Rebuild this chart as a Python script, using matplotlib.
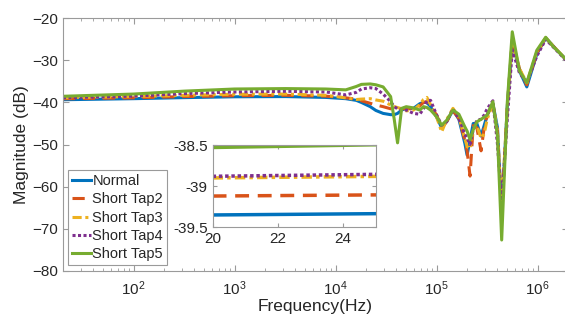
import matplotlib
matplotlib.use("Agg")
import matplotlib.pyplot as plt
import matplotlib.ticker as ticker

plt.rcParams['font.family'] = ['Liberation Sans', 'DejaVu Sans']
plt.rcParams['mathtext.fontset'] = 'custom'
plt.rcParams['mathtext.rm'] = 'Liberation Sans'
plt.rcParams['mathtext.it'] = 'Liberation Sans:italic'

# frequency points (Hz)
freq = [20, 100, 320, 1e3, 3.2e3, 8e3, 1.26e4, 1.6e4, 1.8e4, 2.2e4,
        2.5e4, 2.95e4, 3.5e4, 3.8e4, 4.1e4, 4.5e4, 5e4, 5.9e4, 6.8e4, 7.4e4,
        8e4, 8.7e4, 1e5, 1.12e5, 1.26e5, 1.45e5, 1.66e5, 1.9e5, 2e5, 2.14e5,
        2.3e5, 2.5e5, 2.75e5, 2.95e5, 3.16e5, 3.6e5, 4e5, 4.4e5, 5e5, 5.6e5,
        6.6e5, 7.8e5, 9.8e5, 1.2e6, 1.45e6, 1.9e6]

normal = [-39.35, -39.1, -38.85, -38.65, -38.6, -38.8, -39.1, -39.5, -40.0, -41.0,
          -41.9, -42.6, -42.9, -42.9, -42.6, -41.8, -41.4, -41.4, -40.3, -40.0,
          -40.0, -41.0, -43.5, -46.0, -44.5, -41.8, -44.0, -49.7, -52.5, -48.9,
          -45.0, -45.0, -48.0, -45.5, -43.0, -40.2, -46.0, -66.0, -41.0, -25.5,
          -32.5, -36.3, -28.5, -24.7, -26.8, -29.8]
tap2 = [-39.12, -38.9, -38.6, -38.4, -38.3, -38.5, -38.9, -39.2, -39.6, -40.2,
        -40.6, -41.0, -41.5, -41.6, -41.6, -41.5, -41.5, -41.5, -40.8, -40.0,
        -39.8, -41.0, -43.0, -46.0, -44.5, -42.0, -43.8, -49.0, -51.5, -57.5,
        -45.5, -46.0, -51.5, -46.0, -43.0, -40.3, -47.0, -66.0, -41.0, -25.5,
        -32.0, -35.8, -28.3, -24.7, -26.8, -29.8]
tap3 = [-38.9, -38.6, -38.3, -38.05, -38.0, -38.3, -38.9, -39.3, -39.2, -39.1,
        -39.4, -39.7, -40.6, -41.0, -41.2, -41.5, -42.0, -41.8, -40.5, -39.3,
        -38.8, -40.5, -43.5, -47.0, -44.0, -41.4, -43.5, -48.5, -50.5, -51.0,
        -46.0, -45.5, -48.5, -47.5, -44.0, -40.3, -47.0, -65.0, -41.0, -25.0,
        -32.0, -35.3, -28.0, -24.6, -26.8, -29.7]
tap4 = [-38.88, -38.5, -37.9, -37.5, -37.35, -37.5, -38.2, -37.6, -36.8, -36.5,
        -36.7, -38.0, -39.8, -41.0, -41.5, -41.7, -41.8, -42.6, -42.8, -41.5,
        -39.6, -39.5, -43.0, -45.4, -44.5, -41.6, -43.8, -47.5, -48.5, -50.0,
        -46.5, -44.2, -44.0, -43.0, -41.5, -39.6, -50.0, -64.0, -44.0, -27.5,
        -33.0, -35.2, -29.0, -25.0, -27.0, -29.9]
tap5 = [-38.53, -38.0, -37.3, -36.8, -36.7, -36.8, -37.0, -36.2, -35.7, -35.6,
        -35.8, -36.3, -38.6, -44.0, -49.6, -41.4, -41.0, -41.3, -41.8, -41.0,
        -41.2, -41.8, -43.4, -45.4, -44.2, -41.8, -42.8, -45.8, -46.8, -48.8,
        -46.5, -44.6, -44.0, -43.5, -43.0, -39.8, -48.0, -72.7, -40.0, -23.2,
        -32.5, -35.3, -27.6, -24.5, -26.9, -29.7]

labels = ["Normal", "Short Tap2", "Short Tap3", "Short Tap4", "Short Tap5"]
colors = ["#0072BD", "#D95319", "#EDB120", "#7E2F8E", "#77AC30"]
styles = ["-", (0, (4, 2.5)), (0, (3, 1.2, 1, 1.2)), (0, (1, 0.8)), "-"]
series = [normal, tap2, tap3, tap4, tap5]

spine_col = "#9a9a9a"
text_col = "#262626"

fig = plt.figure(figsize=(5.65, 3.25), dpi=100)
ax = fig.add_axes([0.1115, 0.167, 0.894, 0.7766])

for vals, lab, col, ls in zip(series, labels, colors, styles):
    ax.plot(freq, vals, color=col, linestyle=ls, linewidth=2.2, label=lab)

ax.set_xscale("log")
ax.set_xlim(20, 2e6)
ax.set_ylim(-80, -20)
ax.set_yticks(range(-80, -19, 10))
ax.xaxis.set_major_locator(ticker.FixedLocator([1e2, 1e3, 1e4, 1e5, 1e6]))
ax.xaxis.set_minor_locator(ticker.LogLocator(base=10, subs=range(2, 10), numticks=20))
ax.xaxis.set_minor_formatter(ticker.NullFormatter())
ax.tick_params(which="both", direction="in", top=True, right=True, color=spine_col,
               labelcolor=text_col, labelsize=11)
ax.tick_params(which="major", length=4)
ax.tick_params(which="minor", length=2)
ax.tick_params(axis="x", pad=6)
for s in ax.spines.values():
    s.set_color(spine_col)
    s.set_linewidth(0.8)
ax.set_xlabel("Frequency(Hz)", fontsize=12.5, color=text_col, labelpad=1)
ax.set_ylabel("Magnitude (dB)", fontsize=12.5, color=text_col, labelpad=2)

leg = ax.legend(loc="lower left", bbox_to_anchor=(0.121, 0.1846),
                bbox_transform=fig.transFigure, fontsize=10.5, handlelength=1.3,
                handletextpad=0.1, labelspacing=0.3, borderpad=0.25,
                borderaxespad=0, fancybox=False, framealpha=1)
leg.get_frame().set_edgecolor(spine_col)
leg.get_frame().set_linewidth(0.8)
for t in leg.get_texts():
    t.set_color(text_col)

# zoomed inset of the low-frequency region
axin = fig.add_axes([0.3763, 0.3006, 0.289, 0.2532])
for vals, col, ls in zip(series, colors, styles):
    axin.plot(freq, vals, color=col, linestyle=ls, linewidth=2.5)
axin.set_xlim(20, 25)
axin.set_ylim(-39.5, -38.5)
axin.set_xticks([20, 22, 24])
axin.set_yticks([-39.5, -39, -38.5])
axin.set_yticklabels(["-39.5", "-39", "-38.5"])
axin.tick_params(direction="in", top=True, right=True, color=spine_col,
                 labelcolor=text_col, labelsize=11, length=3)
for s in axin.spines.values():
    s.set_color(spine_col)
    s.set_linewidth(0.8)

fig.savefig("out.png", dpi=100)
